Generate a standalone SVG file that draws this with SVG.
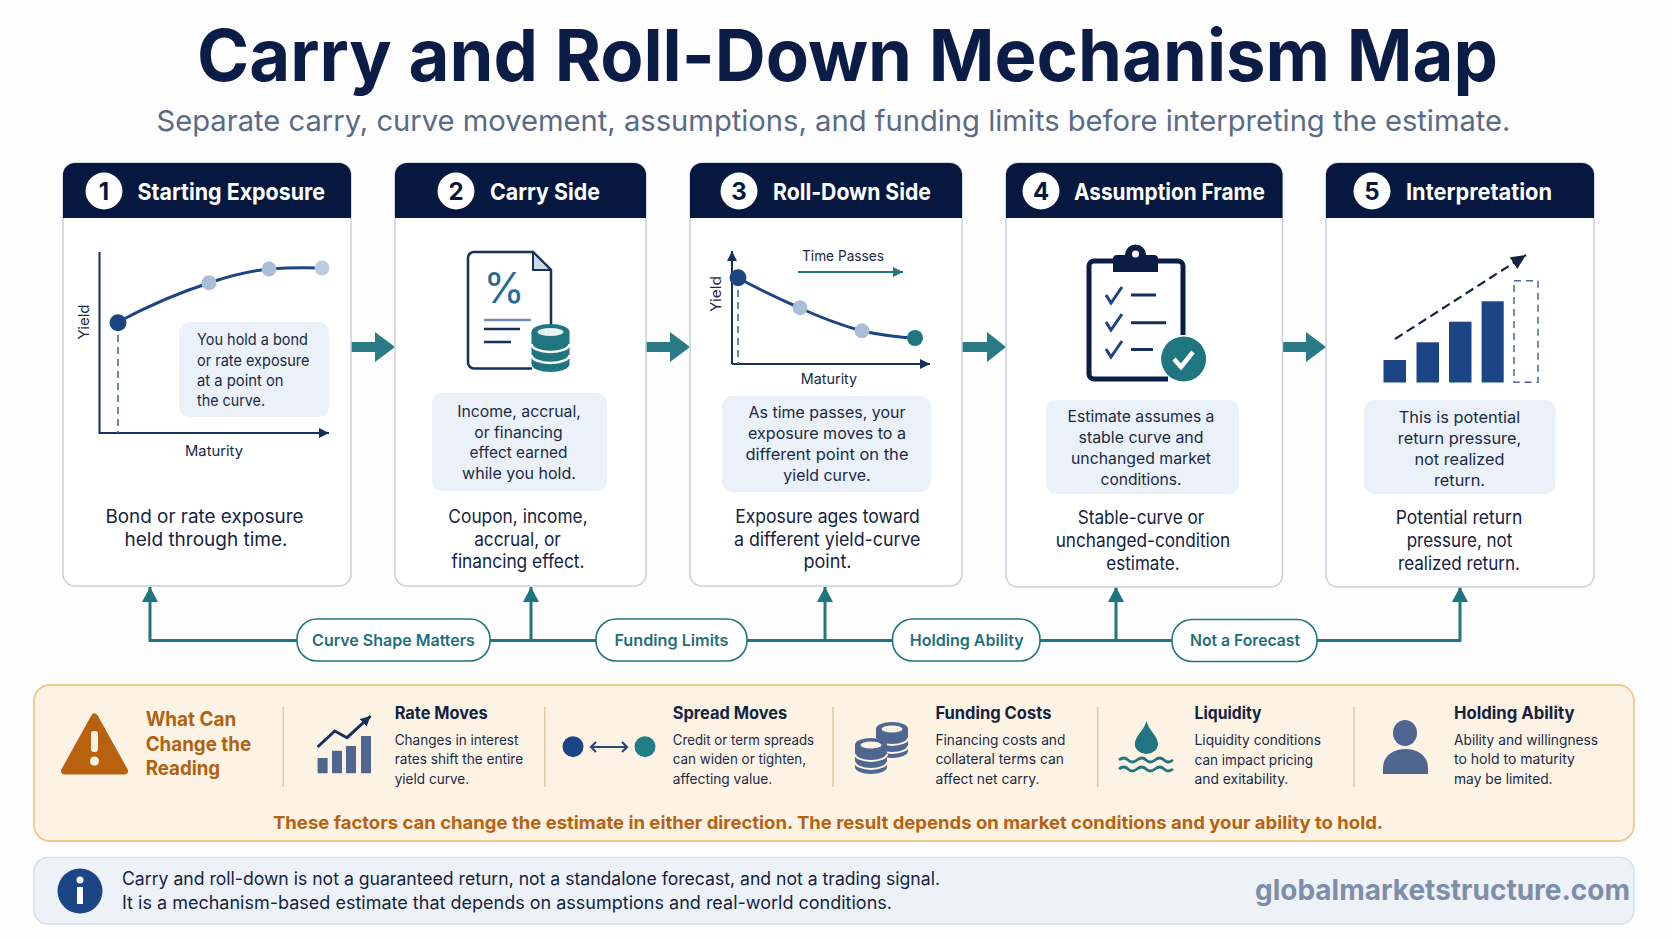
<svg xmlns="http://www.w3.org/2000/svg" width="1672" height="941" viewBox="0 0 1672 941">
<style>
text{font-family:"Inter","Liberation Sans",sans-serif;fill:#14233f}
.card{fill:#fff;stroke:#c9d0da;stroke-width:1.5}
.head{fill:#06183f}
.num{fill:#fff}
.numt{font-size:24px;font-weight:700;fill:#06183f;text-anchor:middle}
.htxt{font-size:23px;font-weight:700;fill:#fff}
.call{fill:#ebf1f8}
.ct{font-size:15.5px;text-anchor:middle;fill:#1a2a45}
.cl{font-size:15.5px;fill:#1a2a45}
.bt{font-size:18.5px;text-anchor:middle;fill:#14233f}
.ax{fill:none;stroke:#14305c;stroke-width:2}
.axl{font-size:14.5px;fill:#1a2a45}
.curve{fill:none;stroke:#1c4585;stroke-width:3}
.dash{fill:none;stroke:#4f6690;stroke-width:1.6;stroke-dasharray:7 5}
.flow{fill:#2a7a85}
.conn{fill:none;stroke:#1f7580;stroke-width:3}
.pill{fill:#fff;stroke:#1f7580;stroke-width:1.6}
.pt{font-size:16px;font-weight:600;fill:#1f6f7d;text-anchor:middle}
.ft{font-size:17px;font-weight:700;fill:#14233f}
.fd{font-size:14px;fill:#1a2a45}
.wc{font-size:20px;font-weight:700;fill:#b0620f}
.div{stroke:#e0c9a8;stroke-width:1.5}
.ic{fill:#4f6690}
.navy{fill:none;stroke:#14305c;stroke-width:2.5;stroke-linecap:round;stroke-linejoin:round}
</style>
<defs>
<marker id="tip" markerUnits="userSpaceOnUse" markerWidth="12" markerHeight="12" refX="10" refY="5" orient="auto"><path d="M0 0L10 5L0 10z" fill="#14305c"/></marker>
<marker id="tipt" markerUnits="userSpaceOnUse" markerWidth="12" markerHeight="12" refX="10" refY="5" orient="auto"><path d="M0 0L10 5L0 10z" fill="#1f7580"/></marker>
<marker id="up" markerUnits="userSpaceOnUse" markerWidth="18" markerHeight="16" refX="15" refY="8" orient="auto"><path d="M0 0L15 8L0 16z" fill="#1f7580"/></marker>
<marker id="tipd" markerUnits="userSpaceOnUse" markerWidth="18" markerHeight="16" refX="15" refY="7" orient="auto"><path d="M0 0L15 7L0 14z" fill="#14233f"/></marker>
<g id="disk"><path d="M-19 -13v32a19 8 0 0 0 38 0v-32" fill="#1f7580"/><ellipse cx="0" cy="-13" rx="19" ry="8" fill="#1f7580"/><ellipse cx="0" cy="-13" rx="13" ry="4" fill="#e7f0f2"/><path d="M-19 -1a19 8 0 0 0 38 0M-19 10a19 8 0 0 0 38 0" fill="none" stroke="#fff" stroke-width="2.5"/></g>
<g id="coin"><path d="M-16 -11v22a16 7 0 0 0 32 0v-22" fill="#4f6690"/><ellipse cx="0" cy="-11" rx="16" ry="7" fill="#4f6690"/><ellipse cx="0" cy="-11" rx="10.5" ry="3.6" fill="#fdf3e5"/><path d="M-16 -2a16 7 0 0 0 32 0M-16 6a16 7 0 0 0 32 0" fill="none" stroke="#fdf3e5" stroke-width="2"/></g>
</defs>
<rect width="1672" height="941" fill="#fdfdfe"/>
<g id="title">
<text x="847.500" y="81" font-size="72" font-weight="700" text-anchor="middle" textLength="1301" lengthAdjust="spacingAndGlyphs" style="fill:#0b1c47">Carry and Roll-Down Mechanism Map</text>
<text x="833.500" y="131" font-size="29" text-anchor="middle" textLength="1354" lengthAdjust="spacingAndGlyphs" style="fill:#5a6b85">Separate carry, curve movement, assumptions, and funding limits before interpreting the estimate.</text>
</g>
<g id="connectors">
<path class="conn" d="M150 640.500H1460"/>
<path class="conn" d="M150 642V587" marker-end="url(#up)"/>
<path class="conn" d="M531 641V587" marker-end="url(#up)"/>
<path class="conn" d="M825 641V587" marker-end="url(#up)"/>
<path class="conn" d="M1116 641V587" marker-end="url(#up)"/>
<path class="conn" d="M1460 642V587" marker-end="url(#up)"/>
<path class="flow" d="M351 342H375V332L395 347L375 362V352H351z"/>
<path class="flow" d="M646 342H670V332L690 347L670 362V352H646z"/>
<path class="flow" d="M962 342H987V332L1006 347L987 362V352H962z"/>
<path class="flow" d="M1283 342H1306V332L1326 347L1306 362V352H1283z"/>
</g>
<g id="card1">
<rect class="card" x="63" y="163" width="288" height="423" rx="12"/>
<path class="head" d="M63 218V175a12 12 0 0 1 12-12H339a12 12 0 0 1 12 12V218z"/>
<circle class="num" cx="104" cy="191" r="18.500"/><text class="numt" x="104" y="200">1</text>
<text class="htxt" x="137.500" y="200" textLength="187.500" lengthAdjust="spacingAndGlyphs">Starting Exposure</text>
<path class="ax" d="M99.500 252V433H329" marker-end="url(#tip)"/>
<path class="dash" d="M118 323V433"/>
<path class="curve" d="M118 322Q165 297 209 283Q240 272 269 269Q295 267 322 268"/>
<circle cx="118" cy="322.700" r="8.500" fill="#1c4585"/><circle cx="209" cy="282.700" r="7.500" fill="#a9bfd8"/><circle cx="269" cy="269" r="7.500" fill="#a9bfd8"/><circle cx="322" cy="268" r="7.500" fill="#bdcde0"/>
<text class="axl" transform="translate(89 322) rotate(-90)" text-anchor="middle" textLength="35" lengthAdjust="spacingAndGlyphs">Yield</text>
<text class="axl" x="214" y="455.500" text-anchor="middle" textLength="58" lengthAdjust="spacingAndGlyphs">Maturity</text>
<rect class="call" x="179" y="322" width="150" height="95" rx="10"/>
<text class="cl" x="197" y="345" textLength="111" lengthAdjust="spacingAndGlyphs">You hold a bond</text><text class="cl" x="197" y="366" textLength="112.500" lengthAdjust="spacingAndGlyphs">or rate exposure</text><text class="cl" x="197" y="386" textLength="86.600" lengthAdjust="spacingAndGlyphs">at a point on</text><text class="cl" x="197" y="406" textLength="68" lengthAdjust="spacingAndGlyphs">the curve.</text>
<text class="bt" x="204.500" y="523" textLength="198.200" lengthAdjust="spacingAndGlyphs">Bond or rate exposure</text><text class="bt" x="206" y="546" textLength="163" lengthAdjust="spacingAndGlyphs">held through time.</text>
</g>
<g id="card2">
<rect class="card" x="395" y="163" width="251" height="423" rx="12"/>
<path class="head" d="M395 218V175a12 12 0 0 1 12-12H634a12 12 0 0 1 12 12V218z"/>
<circle class="num" cx="456" cy="191" r="18.500"/><text class="numt" x="456" y="200">2</text>
<text class="htxt" x="490" y="200" textLength="110" lengthAdjust="spacingAndGlyphs">Carry Side</text>
<path class="navy" d="M531 368.500H474a6 6 0 0 1-6-6V258a6 6 0 0 1 6-6H533L551 270V330"/>
<path d="M533 252V270H551z" fill="#cfdbe8" stroke="#14305c" stroke-width="2" stroke-linejoin="round"/>
<text x="504" y="303" font-size="42" text-anchor="middle" style="fill:#2a6a8f">%</text>
<path d="M484 320H531" stroke="#6d8cb5" stroke-width="2.500"/><path d="M484 329H520M484 342H511" stroke="#14305c" stroke-width="2.500"/>
<use href="#disk" x="550.500" y="345"/>
<rect class="call" x="432" y="393" width="175" height="98" rx="10"/>
<text class="ct" x="519" y="417" textLength="123.700" lengthAdjust="spacingAndGlyphs">Income, accrual,</text><text class="ct" x="518.500" y="438" textLength="88.400" lengthAdjust="spacingAndGlyphs">or financing</text><text class="ct" x="518.500" y="458" textLength="97.800" lengthAdjust="spacingAndGlyphs">effect earned</text><text class="ct" x="519" y="479" textLength="113.800" lengthAdjust="spacingAndGlyphs">while you hold.</text>
<text class="bt" x="518" y="523" textLength="139.300" lengthAdjust="spacingAndGlyphs">Coupon, income,</text><text class="bt" x="517.500" y="546" textLength="86.600" lengthAdjust="spacingAndGlyphs">accrual, or</text><text class="bt" x="518" y="568" textLength="133" lengthAdjust="spacingAndGlyphs">financing effect.</text>
</g>
<g id="card3">
<rect class="card" x="690" y="163" width="272" height="423" rx="12"/>
<path class="head" d="M690 218V175a12 12 0 0 1 12-12H950a12 12 0 0 1 12 12V218z"/>
<circle class="num" cx="739" cy="191" r="18.500"/><text class="numt" x="739" y="200">3</text>
<text class="htxt" x="773" y="200" textLength="158" lengthAdjust="spacingAndGlyphs">Roll-Down Side</text>
<path class="ax" d="M732 364V251" marker-end="url(#tip)"/><path class="ax" d="M732 364H930" marker-end="url(#tip)"/>
<path class="dash" d="M738 278V364"/>
<path class="curve" d="M738 278Q770 295 800 308Q830 322 862 331Q890 337 915 338"/>
<circle cx="738" cy="277.700" r="8.500" fill="#1c4585"/><circle cx="800" cy="307.700" r="7.500" fill="#a9bfd8"/><circle cx="862" cy="330.700" r="7.500" fill="#a9bfd8"/><circle cx="915" cy="338" r="8" fill="#1f7580"/>
<text class="axl" transform="translate(721 294) rotate(-90)" text-anchor="middle" textLength="36" lengthAdjust="spacingAndGlyphs">Yield</text>
<text class="axl" x="843" y="261" text-anchor="middle" textLength="82" lengthAdjust="spacingAndGlyphs">Time Passes</text>
<path d="M798 272H903" fill="none" stroke="#1f7580" stroke-width="2" marker-end="url(#tipt)"/>
<text class="axl" x="829" y="384" text-anchor="middle" textLength="56.300" lengthAdjust="spacingAndGlyphs">Maturity</text>
<rect class="call" x="722" y="396" width="209" height="96" rx="10"/>
<text class="ct" x="827" y="418" textLength="157" lengthAdjust="spacingAndGlyphs">As time passes, your</text><text class="ct" x="827" y="439" textLength="158" lengthAdjust="spacingAndGlyphs">exposure moves to a</text><text class="ct" x="827" y="460" textLength="163" lengthAdjust="spacingAndGlyphs">different point on the</text><text class="ct" x="827" y="481" textLength="87.300" lengthAdjust="spacingAndGlyphs">yield curve.</text>
<text class="bt" x="827.500" y="523" textLength="184.700" lengthAdjust="spacingAndGlyphs">Exposure ages toward</text><text class="bt" x="827.200" y="546" textLength="186.600" lengthAdjust="spacingAndGlyphs">a different yield-curve</text><text class="bt" x="827.500" y="568" textLength="48" lengthAdjust="spacingAndGlyphs">point.</text>
</g>
<g id="card4">
<rect class="card" x="1006" y="163" width="276.500" height="424" rx="12"/>
<path class="head" d="M1006 218V175a12 12 0 0 1 12-12H1270.500a12 12 0 0 1 12 12V218z"/>
<circle class="num" cx="1041" cy="191" r="18.500"/><text class="numt" x="1041" y="200">4</text>
<text class="htxt" x="1074" y="200" textLength="191" lengthAdjust="spacingAndGlyphs">Assumption Frame</text>
<path d="M1113 261H1094a5 5 0 0 0-5 5V374a5 5 0 0 0 5 5H1168M1158 261H1178a5 5 0 0 1 5 5V335" fill="none" stroke="#0b1c47" stroke-width="5" stroke-linejoin="round"/>
<path d="M1113 272V259a4 4 0 0 1 4-4H1125a10.500 10.500 0 0 1 21 0H1154a4 4 0 0 1 4 4V272z" fill="#0b1c47"/><circle cx="1135.500" cy="254" r="3.500" fill="#fff"/>
<path d="M1106 295l5 8 11-16M1106 322l5 8 11-16M1106 349l5 8 11-16" fill="none" stroke="#1c4585" stroke-width="3"/>
<path d="M1131 295H1156M1131 322.700H1166M1131 349.500H1153" stroke="#14305c" stroke-width="3"/>
<circle cx="1183.600" cy="359" r="22.500" fill="#1f7580"/><path d="M1174 359l7 8 12-15" fill="none" stroke="#fff" stroke-width="4.500"/>
<rect class="call" x="1046" y="400" width="193" height="94" rx="10"/>
<text class="ct" x="1141" y="422" textLength="146.800" lengthAdjust="spacingAndGlyphs">Estimate assumes a</text><text class="ct" x="1141" y="443" textLength="125" lengthAdjust="spacingAndGlyphs">stable curve and</text><text class="ct" x="1141" y="464" textLength="140" lengthAdjust="spacingAndGlyphs">unchanged market</text><text class="ct" x="1141" y="485" textLength="81" lengthAdjust="spacingAndGlyphs">conditions.</text>
<text class="bt" x="1141" y="524" textLength="126.500" lengthAdjust="spacingAndGlyphs">Stable-curve or</text><text class="bt" x="1143" y="547" textLength="174.600" lengthAdjust="spacingAndGlyphs">unchanged-condition</text><text class="bt" x="1143" y="570" textLength="73.400" lengthAdjust="spacingAndGlyphs">estimate.</text>
</g>
<g id="card5">
<rect class="card" x="1326" y="163" width="268" height="424" rx="12"/>
<path class="head" d="M1326 218V175a12 12 0 0 1 12-12H1582a12 12 0 0 1 12 12V218z"/>
<circle class="num" cx="1372" cy="191" r="18.500"/><text class="numt" x="1372" y="200">5</text>
<text class="htxt" x="1406" y="200" textLength="146" lengthAdjust="spacingAndGlyphs">Interpretation</text>
<g fill="#1c4585"><rect x="1383.500" y="360" width="22.500" height="22.500"/><rect x="1416.500" y="342.300" width="22.500" height="40.200"/><rect x="1449" y="321.700" width="22.500" height="60.800"/><rect x="1481.600" y="301.300" width="22.100" height="81.200"/></g>
<rect x="1514" y="280.700" width="24" height="101.600" fill="none" stroke="#4f6690" stroke-width="1.500" stroke-dasharray="7 5"/>
<path d="M1395 339L1526 255" fill="none" stroke="#14233f" stroke-width="2.200" stroke-dasharray="9 5" marker-end="url(#tipd)"/>
<rect class="call" x="1364" y="400" width="191.500" height="94" rx="10"/>
<text class="ct" x="1459.500" y="423" textLength="121.500" lengthAdjust="spacingAndGlyphs">This is potential</text><text class="ct" x="1459.500" y="444" textLength="123.400" lengthAdjust="spacingAndGlyphs">return pressure,</text><text class="ct" x="1459.500" y="465" textLength="90" lengthAdjust="spacingAndGlyphs">not realized</text><text class="ct" x="1459.500" y="486" textLength="51" lengthAdjust="spacingAndGlyphs">return.</text>
<text class="bt" x="1459" y="524" textLength="126.500" lengthAdjust="spacingAndGlyphs">Potential return</text><text class="bt" x="1459.500" y="547" textLength="105.700" lengthAdjust="spacingAndGlyphs">pressure, not</text><text class="bt" x="1459" y="570" textLength="122" lengthAdjust="spacingAndGlyphs">realized return.</text>
</g>
<g id="pill-curve"><rect class="pill" x="297" y="619" width="193" height="42" rx="20"/><text class="pt" x="393.500" y="645.500" textLength="162.800" lengthAdjust="spacingAndGlyphs">Curve Shape Matters</text></g>
<g id="pill-funding"><rect class="pill" x="596" y="619" width="151" height="42" rx="20"/><text class="pt" x="671.400" y="645.500" textLength="114" lengthAdjust="spacingAndGlyphs">Funding Limits</text></g>
<g id="pill-holding"><rect class="pill" x="892.500" y="619" width="147.500" height="42" rx="20"/><text class="pt" x="966.700" y="645.500" textLength="114" lengthAdjust="spacingAndGlyphs">Holding Ability</text></g>
<g id="pill-forecast"><rect class="pill" x="1172" y="619.500" width="145" height="42" rx="20"/><text class="pt" x="1245" y="646" textLength="110" lengthAdjust="spacingAndGlyphs">Not a Forecast</text></g>
<g id="factors">
<rect x="34" y="685" width="1600" height="156" rx="16" fill="#fdf3e5" stroke="#f0c98c" stroke-width="1.800"/>
<path d="M94.500 717L124.500 771H64.500z" fill="#b8620f" stroke="#b8620f" stroke-width="7" stroke-linejoin="round"/>
<rect x="91" y="731" width="7" height="21" rx="3" fill="#fdf3e5"/><circle cx="94.500" cy="761" r="4.500" fill="#fdf3e5"/>
<text class="wc" x="145.700" y="726" textLength="90.500" lengthAdjust="spacingAndGlyphs">What Can</text><text class="wc" x="145.700" y="750.500" textLength="105.500" lengthAdjust="spacingAndGlyphs">Change the</text><text class="wc" x="145.700" y="775" textLength="74.500" lengthAdjust="spacingAndGlyphs">Reading</text>
<path class="div" d="M283.300 707V787M544.700 707V787M833 707V787M1097.700 707V787M1354 707V787"/>
</g>
<g id="factor-rate">
<path class="ic" d="M317.600 758h10v15.300h-10zM332 750.700h10v22.600h-10zM346 746h10v27.300h-10zM361 736h10v37.300h-10z"/>
<path d="M317.600 747L334.800 731L347 737.700L370.600 716" fill="none" stroke="#14305c" stroke-width="3" marker-end="url(#tip)"/>
<text class="ft" x="394.700" y="719" textLength="93" lengthAdjust="spacingAndGlyphs">Rate Moves</text><text class="fd" x="394.700" y="744.500" textLength="123.700" lengthAdjust="spacingAndGlyphs">Changes in interest</text><text class="fd" x="394.700" y="764" textLength="128.500" lengthAdjust="spacingAndGlyphs">rates shift the entire</text><text class="fd" x="394.700" y="783.500" textLength="74.500" lengthAdjust="spacingAndGlyphs">yield curve.</text>
</g>
<g id="factor-spread">
<circle cx="573" cy="746.700" r="10.500" fill="#1c4585"/><circle cx="645" cy="746.700" r="10.500" fill="#1f7f85"/>
<path d="M591 747H627M596 742l-5 5 5 5M622 742l5 5-5 5" fill="none" stroke="#2c4a75" stroke-width="2.200"/>
<text class="ft" x="672.700" y="719" textLength="114.600" lengthAdjust="spacingAndGlyphs">Spread Moves</text><text class="fd" x="672.700" y="744.500" textLength="141.400" lengthAdjust="spacingAndGlyphs">Credit or term spreads</text><text class="fd" x="672.700" y="764" textLength="133.400" lengthAdjust="spacingAndGlyphs">can widen or tighten,</text><text class="fd" x="672.700" y="783.500" textLength="99.600" lengthAdjust="spacingAndGlyphs">affecting value.</text>
</g>
<g id="factor-funding">
<use href="#coin" x="892" y="740"/><use href="#coin" x="871" y="756"/>
<text class="ft" x="935.400" y="719" textLength="116" lengthAdjust="spacingAndGlyphs">Funding Costs</text><text class="fd" x="935.400" y="744.500" textLength="130" lengthAdjust="spacingAndGlyphs">Financing costs and</text><text class="fd" x="935.400" y="764" textLength="128.500" lengthAdjust="spacingAndGlyphs">collateral terms can</text><text class="fd" x="935.400" y="783.500" textLength="104" lengthAdjust="spacingAndGlyphs">affect net carry.</text>
</g>
<g id="factor-liquidity">
<path d="M1146.400 721C1149 731 1158 736 1158 744A11.600 10 0 0 1 1134.800 744C1134.800 736 1144 731 1146.400 721z" fill="#1f7580"/>
<path d="M1119 760q5-4 9 0t9 0t9 0t9 0t9 0t9 0M1119 769q5-4 9 0t9 0t9 0t9 0t9 0t9 0" fill="none" stroke="#1f7580" stroke-width="2.800"/>
<text class="ft" x="1194.600" y="719" textLength="67" lengthAdjust="spacingAndGlyphs">Liquidity</text><text class="fd" x="1194.600" y="745" textLength="126.400" lengthAdjust="spacingAndGlyphs">Liquidity conditions</text><text class="fd" x="1194.600" y="764.500" textLength="118.400" lengthAdjust="spacingAndGlyphs">can impact pricing</text><text class="fd" x="1194.600" y="784" textLength="93.700" lengthAdjust="spacingAndGlyphs">and exitability.</text>
</g>
<g id="factor-holding">
<ellipse class="ic" cx="1405" cy="733" rx="12" ry="13"/>
<path class="ic" d="M1383 774V768C1383 756 1393 749 1405.500 749S1428 756 1428 768V774z"/>
<text class="ft" x="1454" y="719" textLength="120.500" lengthAdjust="spacingAndGlyphs">Holding Ability</text><text class="fd" x="1454" y="744.500" textLength="144" lengthAdjust="spacingAndGlyphs">Ability and willingness</text><text class="fd" x="1454" y="764" textLength="121" lengthAdjust="spacingAndGlyphs">to hold to maturity</text><text class="fd" x="1454" y="783.500" textLength="98.600" lengthAdjust="spacingAndGlyphs">may be limited.</text>
</g>
<text id="factors-note" x="273" y="829" font-size="18" font-weight="700" textLength="1110" lengthAdjust="spacingAndGlyphs" style="fill:#b8620f">These factors can change the estimate in either direction. The result depends on market conditions and your ability to hold.</text>
<g id="note">
<rect x="34" y="857.500" width="1600" height="66.500" rx="14" fill="#edf2f9" stroke="#d5dfec" stroke-width="1.500"/>
<circle cx="80" cy="891" r="22.500" fill="#1c4585"/><circle cx="80" cy="880" r="3.500" fill="#fff"/><rect x="77" y="887" width="6" height="17" fill="#fff"/>
<text x="122" y="885" font-size="18" textLength="818" lengthAdjust="spacingAndGlyphs" style="fill:#14233f">Carry and roll-down is not a guaranteed return, not a standalone forecast, and not a trading signal.</text>
<text x="122" y="908.500" font-size="18" textLength="770" lengthAdjust="spacingAndGlyphs" style="fill:#14233f">It is a mechanism-based estimate that depends on assumptions and real-world conditions.</text>
<text x="1255" y="900" font-size="29" font-weight="700" textLength="375" lengthAdjust="spacingAndGlyphs" style="fill:#7f8ea8">globalmarketstructure.com</text>
</g>
</svg>
